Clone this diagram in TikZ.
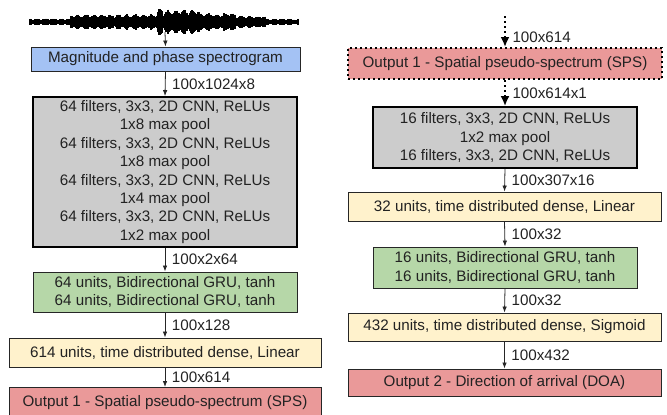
\documentclass[tikz,border=0pt]{standalone}
\usepackage{fontspec}
\setmainfont{Liberation Sans}
\usetikzlibrary{arrows.meta}
\definecolor{cblue}{HTML}{A4C2F4}
\definecolor{cgray}{HTML}{CCCCCC}
\definecolor{cgreen}{HTML}{B6D7A8}
\definecolor{cyellow}{HTML}{FFF2CC}
\definecolor{cred}{HTML}{EA9999}
\definecolor{ctext}{HTML}{222222}
\begin{document}
\begin{tikzpicture}[x=1pt,y=-1pt,
  box/.style={draw=black!85, line width=0.9pt, inner sep=0pt, align=center, text=ctext,
              font=\fontsize{15.2}{18.4}\selectfont},
  thickbox/.style={box, draw=black, line width=1.8pt},
  dotbox/.style={box, draw=black, line width=2pt, dash pattern=on 2pt off 3pt},
  arr/.style={draw=black!85, line width=0.8pt, -{Latex[length=6pt,width=4.5pt]}},
  dotarr/.style={draw=black, line width=2pt, dash pattern=on 2pt off 3pt, -{Latex[length=10pt,width=9pt]}},
  lab/.style={anchor=west, inner sep=0pt, xshift=6.5pt, text=ctext, font=\fontsize{15.2}{18}\selectfont},
  wavestroke/.style={line width=1.2pt}
]
\useasboundingbox (0,0) rectangle (667,415);

% waveform
\pgfmathsetseed{11}
\draw[line width=1.6pt] (30,22) -- (299,22);
\foreach \x in {30,...,298}{
  \ifnum\x<71 \def\wenv{3.2}\else
  \ifnum\x<84 \def\wenv{7}\else
  \ifnum\x<158 \def\wenv{7.2}\else
  \ifnum\x<200 \def\wenv{11.5}\else
  \ifnum\x<236 \def\wenv{8}\else
  \ifnum\x<266 \def\wenv{5.5}\else
  \def\wenv{3}\fi\fi\fi\fi\fi\fi
  \pgfmathsetmacro{\wamp}{\wenv*(0.45+0.4*abs(sin(\x*22))+0.25*rnd)}
  \draw[wavestroke] (\x,22-\wamp) -- (\x,22+\wamp);
}
\node[minimum width=270pt, minimum height=18pt, inner sep=0pt] (wave) at (165,23) {};

% left column
\node[box, fill=cblue, minimum width=269pt, minimum height=24pt] (spec) at (165.5,59) {Magnitude and phase spectrogram};
\node[thickbox, fill=cgray, minimum width=264pt, minimum height=150pt] (cnn1) at (165,172) {64 filters, 3x3, 2D CNN, ReLUs\\1x8 max pool\\64 filters, 3x3, 2D CNN, ReLUs\\1x8 max pool\\64 filters, 3x3, 2D CNN, ReLUs\\1x4 max pool\\64 filters, 3x3, 2D CNN, ReLUs\\1x2 max pool};
\node[box, fill=cgreen, minimum width=264pt, minimum height=40pt] (gru1) at (165,292) {64 units, Bidirectional GRU, tanh\\64 units, Bidirectional GRU, tanh};
\node[box, fill=cyellow, minimum width=312pt, minimum height=29pt] (dense1) at (165,352.5) {614 units, time distributed dense, Linear};
\node[box, fill=cred, minimum width=312pt, minimum height=30pt] (out1) at (165,402.5) {Output 1 - Spatial pseudo-spectrum (SPS)};

\draw[arr] (wave.south) -- (spec.north);
\draw[arr] (spec.south) -- node[lab]{100x1024x8} (cnn1.north);
\draw[arr] (cnn1.south) -- node[lab]{100x2x64} (gru1.north);
\draw[arr] (gru1.south) -- node[lab]{100x128} (dense1.north);
\draw[arr] (dense1.south) -- node[lab]{100x614} (out1.north);

% right column
\coordinate (top) at (505,16);
\node[dotbox, fill=cred, minimum width=314pt, minimum height=31pt] (out1b) at (505,63.5) {Output 1 - Spatial pseudo-spectrum (SPS)};
\node[thickbox, fill=cgray, minimum width=264pt, minimum height=61pt] (cnn2) at (505,137.5) {16 filters, 3x3, 2D CNN, ReLUs\\1x2 max pool\\16 filters, 3x3, 2D CNN, ReLUs};
\node[box, fill=cyellow, minimum width=313pt, minimum height=29pt] (dense2) at (504.5,206.5) {32 units, time distributed dense, Linear};
\node[box, fill=cgreen, minimum width=264pt, minimum height=41pt] (gru2) at (505,267.5) {16 units, Bidirectional GRU, tanh\\16 units, Bidirectional GRU, tanh};
\node[box, fill=cyellow, minimum width=313pt, minimum height=28pt] (dense3) at (504.5,327) {432 units, time distributed dense, Sigmoid};
\node[box, fill=cred, minimum width=313pt, minimum height=27pt] (out2) at (504.5,382.5) {Output 2 - Direction of arrival (DOA)};

\draw[dotarr] (top) -- node[lab, pos=0.7]{100x614} (out1b.north);
\draw[dotarr] (out1b.south) -- node[lab]{100x614x1} (cnn2.north);
\draw[arr] (cnn2.south) -- node[lab]{100x307x16} (dense2.north);
\draw[arr] (dense2.south) -- node[lab]{100x32} (gru2.north);
\draw[arr] (gru2.south) -- node[lab]{100x32} (dense3.north);
\draw[arr] (dense3.south) -- node[lab]{100x432} (out2.north);
\end{tikzpicture}
\end{document}
